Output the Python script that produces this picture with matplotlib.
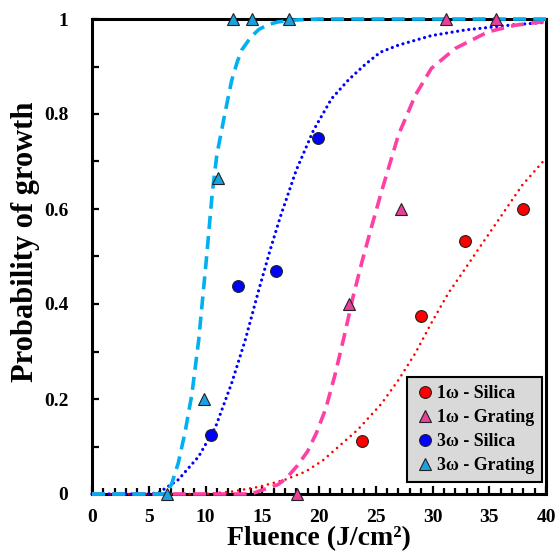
import matplotlib
matplotlib.use('Agg')
import matplotlib.pyplot as plt
from matplotlib.ticker import MultipleLocator
from matplotlib.lines import Line2D

plt.rcParams['font.family'] = ['Liberation Serif', 'DejaVu Serif']
plt.rcParams['font.weight'] = 'bold'

# ---- measured data points ----
silica_1w_x = [23.8, 29.0, 32.9, 38.0]
silica_1w_y = [0.112, 0.375, 0.533, 0.600]
grating_1w_x = [18.1, 22.6, 27.2, 31.2, 35.6]
grating_1w_y = [0.0, 0.40, 0.60, 1.0, 1.0]
silica_3w_x = [10.5, 12.9, 16.2, 19.9]
silica_3w_y = [0.125, 0.438, 0.470, 0.750]
grating_3w_x = [6.6, 9.9, 11.1, 12.4, 14.1, 17.4]
grating_3w_y = [0.0, 0.20, 0.665, 1.0, 1.0, 1.0]

# ---- fitted curves ----
fit_3w_grating_x = [0, 6.5, 7.0, 7.6, 8.2, 8.8, 9.4, 10.1, 10.6, 11.0, 11.7, 12.3, 12.8, 13.2, 14.0, 14.7, 15.5, 16.4, 18.0, 20.0, 40.0]
fit_3w_grating_y = [0, 0, 0.02, 0.065, 0.13, 0.21, 0.324, 0.50, 0.635, 0.714, 0.80, 0.87, 0.91, 0.935, 0.962, 0.978, 0.988, 0.994, 0.998, 1.0, 1.0]

fit_3w_silica_x = [0, 5.0, 5.9, 7.6, 9.4, 10.9, 12.3, 13.5, 14.7, 15.7, 16.6, 18.0, 19.5, 21.1, 22.6, 24.1, 25.4, 27.0, 29.9, 32.9, 37.2, 40.0]
fit_3w_silica_y = [0, 0, 0.003, 0.03, 0.079, 0.142, 0.233, 0.324, 0.43, 0.514, 0.584, 0.682, 0.765, 0.832, 0.872, 0.905, 0.93, 0.945, 0.965, 0.977, 0.988, 0.993]

fit_1w_grating_x = [0, 14.0, 16.4, 17.2, 18.1, 19.0, 19.8, 20.6, 21.4, 22.2, 23.0, 23.8, 24.6, 25.5, 27.0, 28.5, 29.9, 32.0, 34.9, 37.3, 40.0]
fit_1w_grating_y = [0, 0, 0.02, 0.035, 0.06, 0.09, 0.13, 0.18, 0.25, 0.33, 0.415, 0.49, 0.56, 0.636, 0.756, 0.84, 0.896, 0.938, 0.973, 0.987, 0.995]

fit_1w_silica_x = [0, 10.0, 12.3, 14.7, 17.0, 18.8, 20.3, 21.4, 23.4, 25.5, 27.0, 28.5, 29.9, 31.4, 32.9, 34.0, 36.1, 37.9, 40.0]
fit_1w_silica_y = [0, 0, 0.005, 0.015, 0.03, 0.047, 0.07, 0.093, 0.135, 0.19, 0.24, 0.297, 0.36, 0.423, 0.475, 0.514, 0.587, 0.65, 0.707]

labels = ['1ω - Silica', '1ω - Grating', '3ω - Silica', '3ω - Grating']
x_ticks = [0, 5, 10, 15, 20, 25, 30, 35, 40]
y_ticks = [0, 0.2, 0.4, 0.6, 0.8, 1.0]
y_ticklabels = ['0', '0.2', '0.4', '0.6', '0.8', '1']

fig = plt.figure(figsize=(5.57, 5.60), dpi=100)
ax = fig.add_axes([92/557, 1-494/560, 454/557, 475/560])

# curves
ax.plot(fit_1w_silica_x, fit_1w_silica_y, color='#ff0000', lw=1.9,
        linestyle=(0, (0.01, 2.3)), dash_capstyle='round', zorder=3, clip_on=False)
ax.plot(fit_3w_silica_x, fit_3w_silica_y, color='#0000ff', lw=2.3,
        linestyle=(0, (0.01, 1.75)), dash_capstyle='round', zorder=3, clip_on=False)
ax.plot(fit_1w_grating_x, fit_1w_grating_y, color='#ff3fa4', lw=2.6,
        linestyle=(0, (3.6, 2.0)), dash_capstyle='butt', zorder=3, clip_on=False)
ax.plot(fit_3w_grating_x, fit_3w_grating_y, color='#00b0f0', lw=2.6,
        linestyle=(0, (3.6, 2.0)), dash_capstyle='butt', zorder=3, clip_on=False)

# markers
mk = dict(linestyle='none', markeredgecolor='#222222', markeredgewidth=0.8,
          zorder=5, clip_on=False)
ax.plot(silica_1w_x, silica_1w_y, marker='o', markersize=8.5, markerfacecolor='#ff0000', **mk)
ax.plot(grating_1w_x, grating_1w_y, marker='^', markersize=8.5, markerfacecolor='#e8409a', **mk)
ax.plot(silica_3w_x, silica_3w_y, marker='o', markersize=8.5, markerfacecolor='#0000ff', **mk)
ax.plot(grating_3w_x, grating_3w_y, marker='^', markersize=8.5, markerfacecolor='#1ba1e2', **mk)

ax.set_xlim(0, 40)
ax.set_ylim(0, 1)
ax.set_xticks(x_ticks)
ax.set_yticks(y_ticks)
ax.set_yticklabels(y_ticklabels)
ax.xaxis.set_minor_locator(MultipleLocator(1))
ax.yaxis.set_minor_locator(MultipleLocator(0.1))
ax.tick_params(axis='both', which='both', direction='in', width=1.6,
               top=False, right=False, labelsize=14)
ax.tick_params(axis='x', which='major', length=6, pad=11)
ax.tick_params(axis='x', which='minor', length=4)
ax.tick_params(axis='y', which='major', length=5, pad=17)
ax.tick_params(axis='y', which='minor', length=5)
for lab in ax.get_xticklabels() + ax.get_yticklabels():
    lab.set_fontweight('bold')

for sp in ax.spines.values():
    sp.set_linewidth(2.2)
    sp.set_color('black')

ax.set_xlabel('Fluence (J/cm²)', fontsize=20, fontweight='bold', labelpad=0)
ax.set_ylabel('Probability of growth', fontsize=22, fontweight='bold', labelpad=3, y=0.53)

handles = [
    Line2D([], [], linestyle='none', marker='o', markersize=8.5, markerfacecolor='#ff0000', markeredgecolor='#222222', markeredgewidth=0.8),
    Line2D([], [], linestyle='none', marker='^', markersize=8.5, markerfacecolor='#e8409a', markeredgecolor='#222222', markeredgewidth=0.8),
    Line2D([], [], linestyle='none', marker='o', markersize=8.5, markerfacecolor='#0000ff', markeredgecolor='#222222', markeredgewidth=0.8),
    Line2D([], [], linestyle='none', marker='^', markersize=8.5, markerfacecolor='#1ba1e2', markeredgecolor='#222222', markeredgewidth=0.8),
]
leg = ax.legend(handles, labels, loc='lower right', bbox_to_anchor=(0.991, 0.025),
                prop={'weight': 'bold', 'size': 12.8}, frameon=True, fancybox=False,
                facecolor='#d9d9d9', edgecolor='black', framealpha=1,
                handlelength=1.1, handletextpad=0.1, labelspacing=0.4,
                borderpad=0.45, borderaxespad=0)
leg.get_frame().set_linewidth(1.5)
leg.set_zorder(6)

fig.savefig('out.png', dpi=100)
